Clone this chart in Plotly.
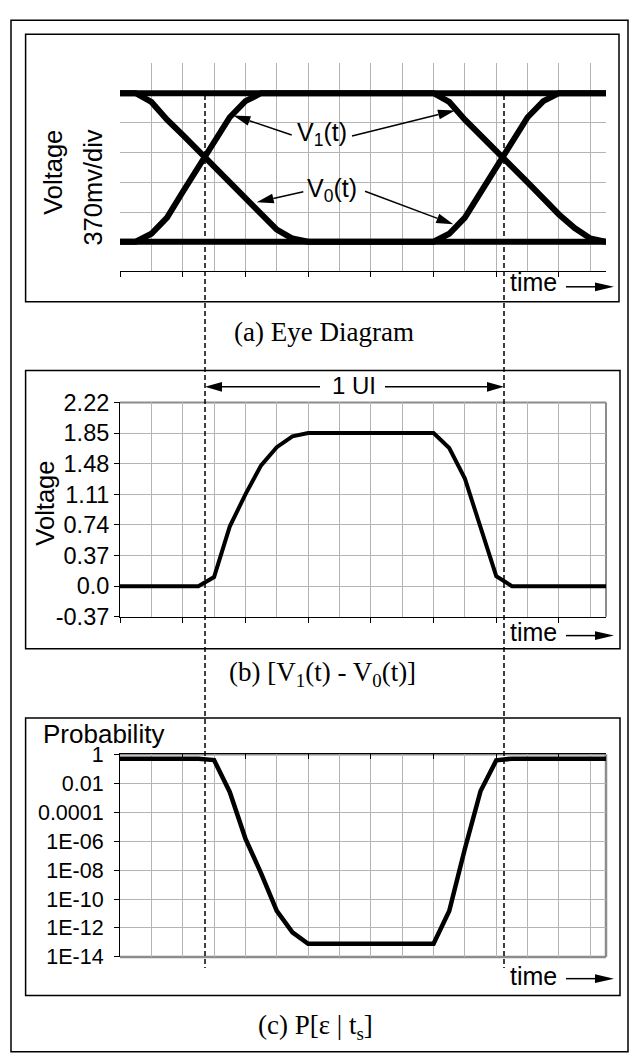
import math
import plotly.graph_objects as go

# figure size in px, everything else is placed in paper coords from px
W, H = 636, 1057

# ---- data (time in grid divisions) ----
eye_t_v1 = [0, 0.5, 1, 1.5, 2, 2.5, 3, 3.5, 4, 4.5,
            10, 10.5, 11, 11.5, 12, 12.5, 13, 13.5, 14, 14.5, 15, 15.5]
eye_v1 = [0, 0, 0.1, 0.3, 0.62, 0.93, 1.24, 1.55, 1.75, 1.85,
          1.85, 1.74, 1.52, 1.33, 1.13, 0.94, 0.74, 0.54, 0.34, 0.17, 0.04, 0]
eye_t_v0 = [0, 0.5, 1, 1.5, 2, 2.5, 3, 3.5, 4, 4.5, 5, 5.5, 6,
            10, 10.5, 11, 11.5, 12, 12.5, 13, 13.5, 14, 15.5]
eye_v0 = [1.85, 1.85, 1.74, 1.52, 1.33, 1.13, 0.94, 0.74, 0.54, 0.34, 0.15, 0.04, 0,
          0, 0.1, 0.3, 0.62, 0.93, 1.24, 1.55, 1.75, 1.85, 1.85]
eye_t_flat = [0, 15.5]
eye_high = [1.85, 1.85]
eye_low = [0, 0]

diff_t = [0, 2.5, 3, 3.5, 4, 4.5, 5, 5.5, 6, 10, 10.5, 11, 11.5, 12, 12.5, 15.5]
diff_v = [0, 0, 0.11, 0.72, 1.11, 1.46, 1.68, 1.81, 1.85,
          1.85, 1.67, 1.30, 0.71, 0.12, 0, 0]

prob_t = [0, 2.5, 3, 3.5, 4, 4.5, 5, 5.5, 6, 10, 10.5, 11, 11.5, 12, 12.5, 15.5]
prob_p = [0.5, 0.5, 0.4, 2.5e-3, 1.5e-6, 6e-9, 1.5e-11, 5e-13, 8e-14,
          8e-14, 1.5e-11, 3e-7, 2.9e-3, 0.38, 0.5, 0.5]

volt_ticks = [-0.37, 0, 0.37, 0.74, 1.11, 1.48, 1.85, 2.22]
volt_labels = ["-0.37", "0.0", "0.37", "0.74", "1.11", "1.48", "1.85", "2.22"]
prob_ticks = [1, 1e-2, 1e-4, 1e-6, 1e-8, 1e-10, 1e-12, 1e-14]
prob_labels = ["1", "0.01", "0.0001", "1E-06", "1E-08", "1E-10", "1E-12", "1E-14"]

SANS = "Liberation Sans, Arial, sans-serif"
SERIF = "Liberation Serif, Times New Roman, serif"
GRID = "#b4b4b4"


def px(x):
    return x / W


def py(y):
    return 1 - y / H


fig = go.Figure()

# (a) eye diagram
for t, v in [(eye_t_flat, eye_high), (eye_t_flat, eye_low),
             (eye_t_v1, eye_v1), (eye_t_v0, eye_v0)]:
    fig.add_trace(go.Scatter(x=t, y=v, mode="lines", xaxis="x", yaxis="y",
                             line=dict(color="black", width=6), showlegend=False))

# (b) difference
fig.add_trace(go.Scatter(x=diff_t, y=diff_v, mode="lines", xaxis="x2", yaxis="y2",
                         line=dict(color="black", width=4), showlegend=False))

# (c) error probability
fig.add_trace(go.Scatter(x=prob_t, y=prob_p, mode="lines", xaxis="x3", yaxis="y3",
                         line=dict(color="black", width=4.5), showlegend=False))

xcommon = dict(range=[0, 15.5], tick0=0, dtick=2, showgrid=True, gridcolor=GRID,
               gridwidth=1, zeroline=False, showticklabels=False,
               showline=True, linecolor="black", linewidth=1,
               ticks="outside", ticklen=5, tickcolor="black",
               minor=dict(tick0=0, dtick=1, showgrid=True, gridcolor=GRID, gridwidth=1),
               domain=[px(120), px(606)])

fig.update_layout(
    width=W, height=H,
    margin=dict(l=0, r=0, t=0, b=0),
    paper_bgcolor="white", plot_bgcolor="white",
    font=dict(family=SANS, color="black", size=22),
    xaxis=dict(xcommon, anchor="y"),
    yaxis=dict(range=[-0.37, 2.22], tickmode="array", tickvals=volt_ticks,
               showticklabels=False, ticks="", showline=False, zeroline=False,
               gridcolor=GRID, domain=[py(265), py(51.7)], anchor="x"),
    xaxis2=dict(xcommon, anchor="y2"),
    yaxis2=dict(range=[-0.37, 2.22], tickmode="array", tickvals=volt_ticks,
                ticktext=volt_labels, ticks="outside", ticklen=5, tickcolor="black",
                showline=True, linecolor="black", linewidth=1, zeroline=False,
                gridcolor=GRID, tickfont=dict(size=23.5),
                domain=[py(619), py(399.3)], anchor="x2"),
    xaxis3=dict(xcommon, anchor="y3", side="top", ticks="inside"),
    yaxis3=dict(type="log", range=[-14, 0], tickmode="array", tickvals=prob_ticks,
                ticktext=prob_labels, ticks="outside", ticklen=5, tickcolor="black",
                showline=True, linecolor="black", linewidth=1, zeroline=False,
                gridcolor=GRID, tickfont=dict(size=21.5), ticklabelstandoff=6,
                domain=[py(967.7), py(760)], anchor="x3"),
)

shapes = []


def rect(x0, y0, x1, y1, color="black", w=1.5):
    shapes.append(dict(type="rect", xref="paper", yref="paper",
                       x0=px(x0), x1=px(x1), y0=py(y0), y1=py(y1),
                       line=dict(color=color, width=w)))


def seg(x0, y0, x1, y1, color="black", w=1.5, dash=None, layer="above"):
    shapes.append(dict(type="line", xref="paper", yref="paper", layer=layer,
                       x0=px(x0), x1=px(x1), y0=py(y0), y1=py(y1),
                       line=dict(color=color, width=w, dash=dash)))


def arrow(x0, y0, x1, y1, hl=17, hw=10, w=1.5):
    dx, dy = x1 - x0, y1 - y0
    n = math.hypot(dx, dy)
    ux, uy = dx / n, dy / n
    bx, by = x1 - ux * hl, y1 - uy * hl
    seg(x0, y0, bx, by, w=w)
    nx, ny = -uy, ux
    pts = [(x1, y1), (bx + nx * hw / 2, by + ny * hw / 2), (bx - nx * hw / 2, by - ny * hw / 2)]
    path = "M " + " L ".join(f"{px(a):.5f},{py(b):.5f}" for a, b in pts) + " Z"
    shapes.append(dict(type="path", xref="paper", yref="paper", path=path,
                       fillcolor="black", line=dict(width=0)))


# frames (outer one runs past the bottom edge)
rect(11, 7.5, 628, 1065)
rect(25.6, 21.7, 619, 296)
rect(25.6, 366.5, 620, 651.7)
rect(25.6, 722.7, 620, 1007.3)

# grey plot-area borders of (b) and (c)
seg(120, 399.3, 606, 399.3, color="#8c8c8c", w=2, layer="between")
seg(606, 399.3, 606, 619, color="#8c8c8c", w=2, layer="between")
seg(120, 760, 606, 760, color="#8c8c8c", w=2.5, layer="between")
seg(606, 760, 606, 967.7, color="#8c8c8c", w=2.5, layer="between")
seg(120, 967.7, 606, 967.7, color="#8c8c8c", w=2.5, layer="between")

# sampling-instant dashed lines through all panels
seg(205, 84, 205, 979, w=1.5, dash="5px,3px")
seg(504, 84, 504, 979, w=1.5, dash="5px,3px")

# arrows
arrow(291.7, 125, 233.3, 105)
arrow(352, 126, 455, 100)
arrow(303.3, 183.3, 256.7, 194)
arrow(365, 182.7, 453.3, 216.7)
arrow(320, 383.3, 205, 383.3)
arrow(385, 383.3, 504, 383.3)
for ya in [280.7, 638.3, 990]:
    arrow(566, ya, 614, ya, hl=19, hw=9)

fig.update_layout(shapes=shapes)


def note(x, y, text, size=22, family=SANS, angle=0):
    fig.add_annotation(x=px(x), y=py(y), xref="paper", yref="paper", text=text,
                       showarrow=False, xanchor="center", yanchor="middle",
                       textangle=angle, font=dict(size=size, family=family, color="black"))


note(322, 124, "V<sub>1</sub>(t)", size=25)
note(332, 181, "V<sub>0</sub>(t)", size=25)
note(354, 382, "1 UI", size=24)
for yt in [276, 635, 987]:
    note(533, yt, "time", size=25)
note(52.8, 163, "Voltage", size=25.5, angle=-90)
note(93, 179, "370mv/div", size=25.5, angle=-90)
note(45, 503, "Voltage", size=25.5, angle=-90)
note(103, 739, "Probability", size=26)
note(323.6, 327, "(a) Eye Diagram", size=27, family=SERIF)
note(322.7, 678, "(b) [V<sub>1</sub>(t) - V<sub>0</sub>(t)]", size=27, family=SERIF)
note(315.4, 1040, "(c) P[ε | t<sub>s</sub>]", size=27, family=SERIF)

# page body has an 8px default margin; drop it so the figure sits at 0,0
fig.write_html("out.html", config={"displayModeBar": False},
               post_script="document.body.style.margin='0px';document.body.style.overflow='hidden';")
